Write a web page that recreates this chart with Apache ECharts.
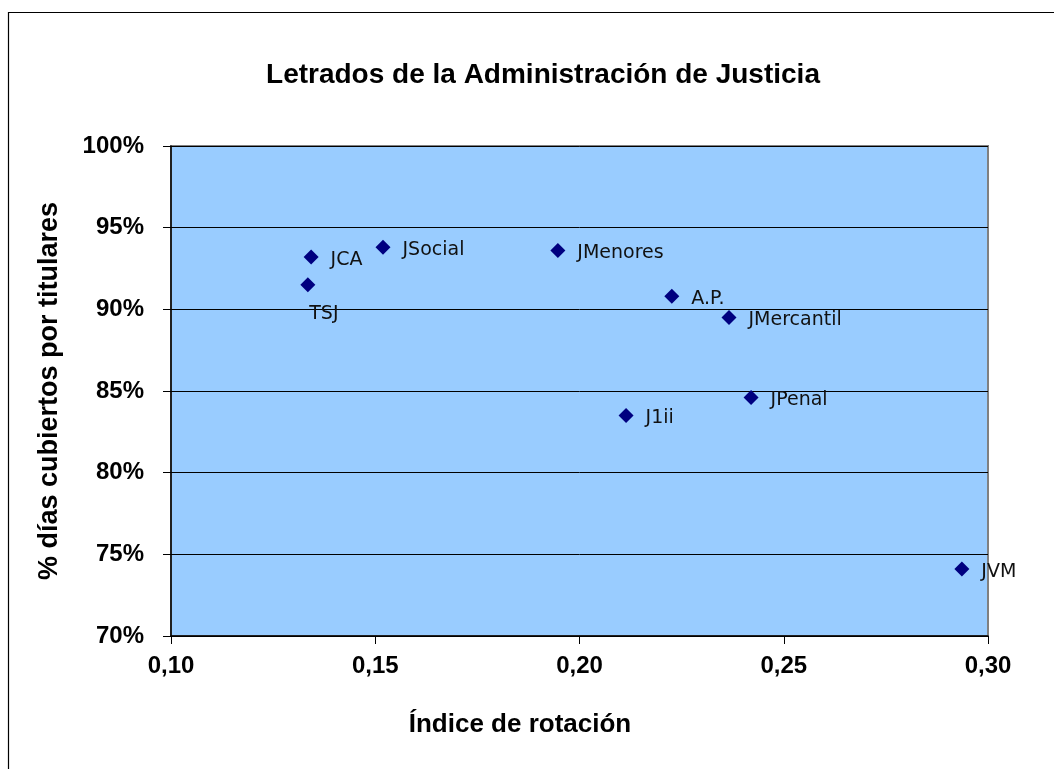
<!DOCTYPE html>
<html lang="es">
<head>
<meta charset="utf-8">
<title>Letrados de la Administración de Justicia</title>
<script src="https://cdn.jsdelivr.net/npm/echarts@6/dist/echarts.min.js"></script>
<style>
  html, body { margin:0; padding:0; background:#fff; }
  #chart { width:1054px; height:769px; }
</style>
</head>
<body>
<div id="chart"></div>
<script>
// datos
var organos = ['JCA', 'TSJ', 'JSocial', 'JMenores', 'A.P.', 'JMercantil', 'JPenal', 'J1ii', 'JVM'];
var indiceRotacion = [0.1343, 0.1335, 0.1519, 0.1947, 0.2226, 0.2366, 0.2420, 0.2114, 0.2936];
var diasCubiertos = [0.932, 0.915, 0.938, 0.936, 0.908, 0.895, 0.846, 0.835, 0.741];

var puntos = [];
for (var i = 0; i < organos.length; i++) {
  var p = { name: organos[i], value: [indiceRotacion[i], diasCubiertos[i]] };
  if (organos[i] == 'TSJ') {
    // etiqueta debajo del punto
    p.label = { position: 'bottom', offset: [16, 0] };
  }
  puntos.push(p);
}

var myChart = echarts.init(document.getElementById('chart'));
var option = {
  backgroundColor: '#fff',
  animation: false,
  title: {
    text: 'Letrados de la Administración de Justicia',
    left: 538,
    top: 56,
    textAlign: 'center',
    textStyle: { fontFamily: 'Liberation Sans', fontWeight: 'bold', fontSize: 28, color: '#000' }
  },
  graphic: [
    { type: 'line', shape: { x1: 8.5, y1: 12, x2: 8.5, y2: 769 }, style: { stroke: '#000', lineWidth: 1.2 } },
    { type: 'line', shape: { x1: 8, y1: 12.5, x2: 1054, y2: 12.5 }, style: { stroke: '#000', lineWidth: 1.2 } }
  ],
  grid: {
    left: 171, top: 146, width: 817, height: 490,
    show: true, backgroundColor: '#99CCFF', borderColor: '#808080', borderWidth: 2
  },
  xAxis: {
    type: 'value', min: 0.10, max: 0.30, interval: 0.05,
    name: 'Índice de rotación',
    nameLocation: 'middle',
    nameGap: 76,
    nameTextStyle: { fontFamily: 'Liberation Sans', fontWeight: 'bold', fontSize: 26, color: '#000', padding: [0, 119, 0, 0] },
    axisLine: { show: true, lineStyle: { color: '#000', width: 1.5 } },
    axisTick: { show: true, length: 8, lineStyle: { color: '#000' } },
    splitLine: { show: false },
    axisLabel: {
      margin: 18,
      fontFamily: 'Liberation Sans', fontWeight: 'bold', fontSize: 24, color: '#000',
      formatter: function (v) { return v.toFixed(2).replace('.', ','); }
    }
  },
  yAxis: {
    type: 'value', min: 0.70, max: 1.00, interval: 0.05,
    name: '% días cubiertos por titulares',
    nameLocation: 'middle',
    nameGap: 108,
    nameTextStyle: { fontFamily: 'Liberation Sans', fontWeight: 'bold', fontSize: 27, color: '#000' },
    axisLine: { show: true, lineStyle: { color: '#000', width: 1.5 } },
    axisTick: { show: true, length: 8, lineStyle: { color: '#000' } },
    splitLine: { show: true, lineStyle: { color: '#000', width: 1 } },
    axisLabel: {
      margin: 27,
      fontFamily: 'Liberation Sans', fontWeight: 'bold', fontSize: 24, color: '#000',
      formatter: function (v) { return Math.round(v * 100) + '%'; }
    }
  },
  series: [{
    type: 'scatter',
    symbol: 'diamond',
    symbolSize: 15,
    itemStyle: { color: '#000080', opacity: 1 },
    label: {
      show: true,
      position: 'right',
      distance: 12,
      offset: [0, 3],
      fontFamily: 'DejaVu Sans',
      fontSize: 19,
      color: '#111',
      formatter: function (p) { return p.name; }
    },
    data: puntos
  }]
};
myChart.setOption(option);
</script>
</body>
</html>
